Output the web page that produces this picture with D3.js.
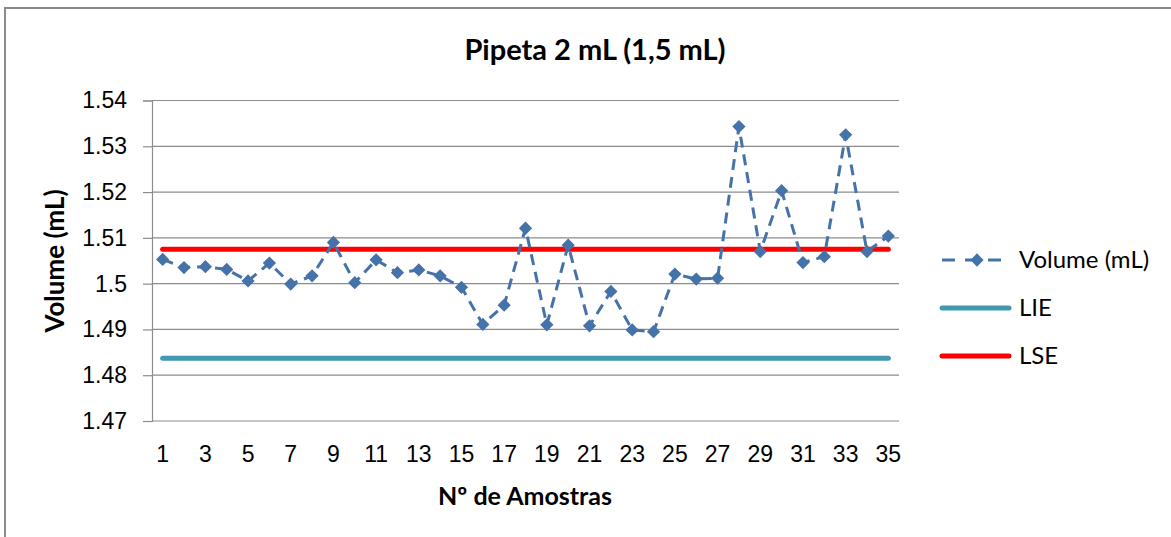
<!DOCTYPE html>
<meta charset="utf-8">
<style>
body { margin: 0; background: #fff; }
svg { display: block; font-family: Lato, "Open Sans", sans-serif; }
.grid line { stroke: #8c8c8c; stroke-width: 1.2; }
.axis path, .axis line { stroke: #8c8c8c; stroke-width: 1.2; }
.axis text { fill: #000; font-size: 23px; }
</style>
<svg width="1171" height="537"></svg>
<script src="https://d3js.org/d3.v7.min.js"></script>
<script>

var samples = d3.range(1, 36);
var volume = [1.5053, 1.5035, 1.5037, 1.5031, 1.5006, 1.5045, 1.4999, 1.5017, 1.5090, 1.5002,
              1.5052, 1.5024, 1.5030, 1.5017, 1.4992, 1.4911, 1.4953, 1.5121, 1.4910, 1.5084,
              1.4908, 1.4983, 1.4899, 1.4895, 1.5021, 1.5010, 1.5012, 1.5343, 1.5070, 1.5203,
              1.5046, 1.5059, 1.5325, 1.5070, 1.5104];
var lie = 1.4837;
var lse = 1.5075;
var yTicks = [1.47, 1.48, 1.49, 1.5, 1.51, 1.52, 1.53, 1.54];
var xTicks = d3.range(1, 36, 2);

var svg = d3.select("svg");

var blue = "#4672aa", teal = "#4198b0", red = "#ff0000";

// chart border (right and bottom run off the picture)
svg.append("rect")
    .attr("x", 5).attr("y", 8)
    .attr("width", 1200).attr("height", 600)
    .attr("fill", "none").attr("stroke", "#8a8a8a").attr("stroke-width", 2);

var x = d3.scaleBand().domain(samples).range([152, 899]);
var y = d3.scaleLinear().domain([1.47, 1.54]).range([421, 100.5]);
var cx = function(d) { return x(d) + x.bandwidth() / 2; };

svg.append("g")
    .attr("class", "grid")
  .selectAll("line").data(yTicks).enter().append("line")
    .attr("x1", 152).attr("x2", 899)
    .attr("y1", function(d) { return y(d); })
    .attr("y2", function(d) { return y(d); });

svg.append("g")
    .attr("class", "axis")
    .attr("transform", "translate(152,0)")
    .call(d3.axisLeft(y).tickValues(yTicks).tickSize(9).tickPadding(16)
      .tickFormat(function(d) { return String(+d.toFixed(2)); }));

svg.append("g")
    .attr("class", "axis")
    .attr("transform", "translate(0,421)")
    .call(d3.axisBottom(x).tickValues(xTicks).tickSize(0).tickPadding(25))
    .call(function(g) { g.select(".domain").remove(); });

// limit lines
[[lie, teal], [lse, red]].forEach(function(l) {
  svg.append("line")
      .attr("x1", cx(1)).attr("x2", cx(35))
      .attr("y1", y(l[0])).attr("y2", y(l[0]))
      .attr("stroke", l[1]).attr("stroke-width", 5)
      .attr("stroke-linecap", "round");
});

var line = d3.line()
    .x(function(d, i) { return cx(samples[i]); })
    .y(function(d) { return y(d); });

svg.append("path")
    .datum(volume)
    .attr("d", line)
    .attr("fill", "none")
    .attr("stroke", blue)
    .attr("stroke-width", 3)
    .attr("stroke-dasharray", "11,7");

var diamond = d3.symbol().type(d3.symbolSquare).size(88);

svg.append("g").selectAll("path").data(volume).enter().append("path")
    .attr("d", diamond)
    .attr("fill", blue)
    .attr("transform", function(d, i) {
      return "translate(" + cx(samples[i]) + "," + y(d) + ") rotate(45)";
    });

// titles
svg.append("text")
    .attr("x", 595).attr("y", 60)
    .attr("text-anchor", "middle")
    .style("font-size", "29px").style("font-weight", "bold")
    .text("Pipeta 2 mL (1,5 mL)");

svg.append("text")
    .attr("x", 525).attr("y", 505)
    .attr("text-anchor", "middle")
    .style("font-size", "25px").style("font-weight", "bold")
    .text("Nº de Amostras");

svg.append("text")
    .attr("transform", "translate(64,261) rotate(-90)")
    .attr("text-anchor", "middle")
    .style("font-size", "26px").style("font-weight", "bold")
    .text("Volume (mL)");

// legend
var legend = [
  {name: "Volume (mL)", color: blue, dash: true, y: 260},
  {name: "LIE", color: teal, dash: false, y: 308},
  {name: "LSE", color: red, dash: false, y: 356}
];

var lg = svg.append("g").selectAll("g").data(legend).enter().append("g")
    .attr("transform", function(d) { return "translate(0," + d.y + ")"; });

lg.append("line")
    .attr("x1", 942).attr("x2", 1009)
    .attr("stroke", function(d) { return d.color; })
    .attr("stroke-width", function(d) { return d.dash ? 3 : 5; })
    .attr("stroke-linecap", function(d) { return d.dash ? "butt" : "round"; })
    .attr("stroke-dasharray", function(d) { return d.dash ? "13,10" : null; });

lg.filter(function(d) { return d.dash; }).append("path")
    .attr("d", diamond)
    .attr("fill", blue)
    .attr("transform", "translate(977,0) rotate(45)");

lg.append("text")
    .attr("x", 1019).attr("dy", "0.35em")
    .style("font-size", "24px")
    .text(function(d) { return d.name; });

</script>
